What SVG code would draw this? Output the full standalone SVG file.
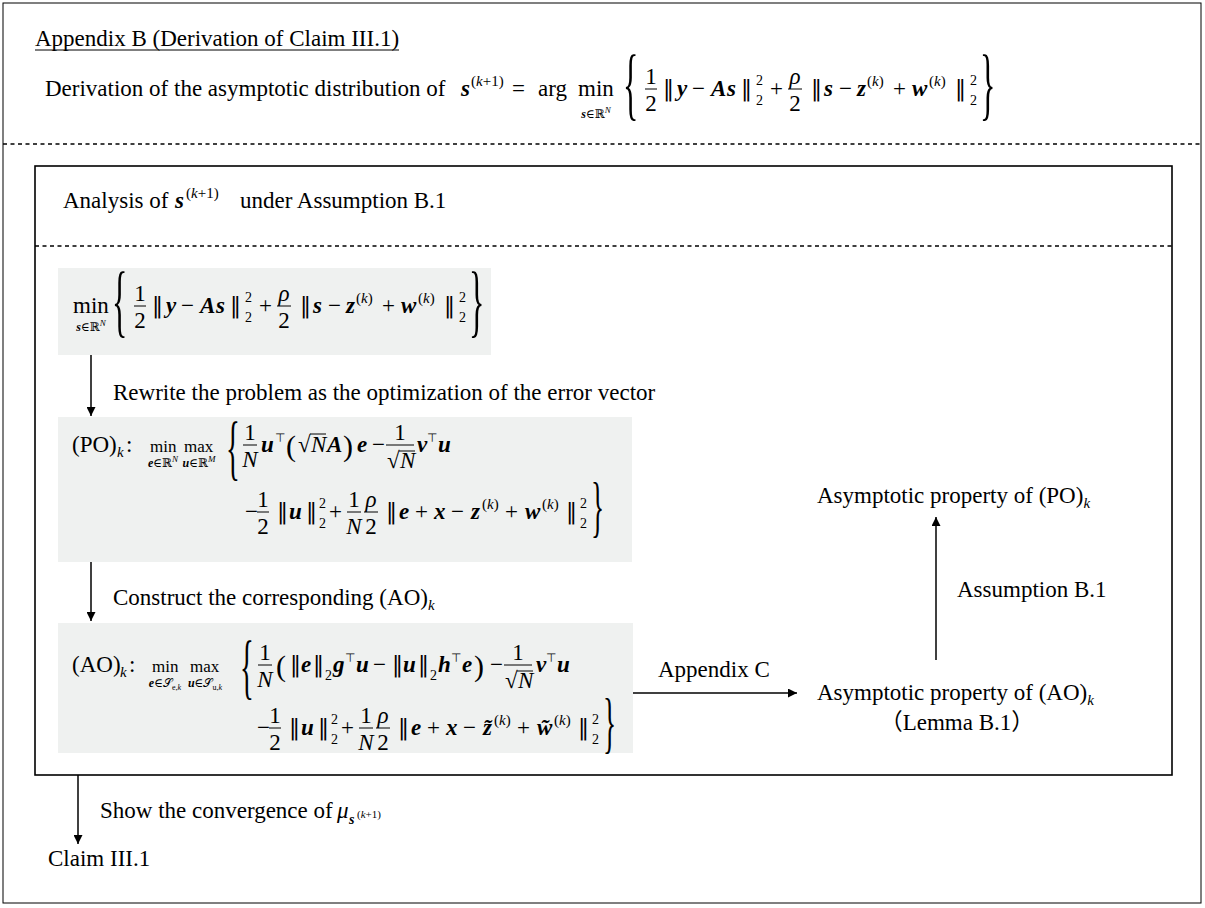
<svg xmlns="http://www.w3.org/2000/svg" width="1205" height="908" viewBox="0 0 1205 908">
<defs>
<marker id="ah" viewBox="0 0 10 10" refX="10" refY="5" markerWidth="9" markerHeight="9" markerUnits="userSpaceOnUse" orient="auto"><path d="M0,0 L10,5 L0,10 z" fill="#000"/></marker>
<style>
text{font-family:"Liberation Serif","DejaVu Serif","DejaVu Sans","Noto Sans CJK JP",serif;font-size:23px;fill:#000}
.v{font-weight:bold;font-style:italic}
.i{font-style:italic}
.sm{font-size:15px}
.xs{font-size:12px}
.s14{font-size:14px}
.f11{font-size:11px}
.op{font-size:17px}
.sym{font-family:"DejaVu Sans",sans-serif;font-size:12px}
.nrm{font-family:"DejaVu Serif",serif;font-size:22px}
.b80{font-size:80px}
.b72{font-size:72px}
.b68{font-size:68px}
.p30{font-size:30px}
.fb{stroke:#000;stroke-width:1}
.box{fill:#eff1f0}
.frame{fill:none;stroke:#000;stroke-width:1}
.inner{fill:none;stroke:#000;stroke-width:1.6}
.dash{stroke:#000;stroke-width:1.5;stroke-dasharray:4 3.5}
.con{stroke:#000;stroke-width:1.5;fill:none;marker-end:url(#ah)}
.cjk{font-family:"Liberation Serif","Noto Sans CJK JP",serif}
</style>
</defs>
<rect width="1205" height="908" fill="#fff"/>
<rect class="frame" x="3" y="3" width="1198" height="900"/>
<line class="dash" x1="3" y1="144" x2="1201" y2="144"/>

<g id="header">
<text x="35" y="46">Appendix B (Derivation of Claim III.1)</text>
<line x1="35" y1="50" x2="399" y2="50" stroke="#000" stroke-width="1"/>
<text x="45" y="96">Derivation of the asymptotic distribution of</text>
<text class="v" x="461" y="96">s</text>
<text class="sm" x="471" y="86">(<tspan class="i">k</tspan>+1)</text>
<text x="512" y="96">=</text>
<text x="538" y="96">arg</text>
<text x="578" y="96">min</text>
<text class="xs" x="596" y="118" text-anchor="middle"><tspan class="v">s</tspan>∈ℝ<tspan class="i" font-size="9" dy="-5">N</tspan></text>
<text class="b80" transform="translate(623,110) scale(0.4,1)">{</text>
<text x="651" y="84" text-anchor="middle">1</text><line class="fb" x1="645" y1="89" x2="657" y2="89"/><text x="651" y="111" text-anchor="middle">2</text>
<text class="nrm" x="663" y="96">‖</text>
<text class="v" x="677" y="96">y</text>
<text x="692" y="96">−</text>
<text class="v" x="711" y="96">A</text>
<text class="v" x="727" y="96">s</text>
<text class="nrm" x="741" y="96">‖</text>
<text class="s14" x="756" y="85">2</text><text class="s14" x="756" y="105">2</text>
<text x="770" y="96">+</text>
<text class="i" x="795" y="84" text-anchor="middle">ρ</text><line class="fb" x1="788" y1="89" x2="802" y2="89"/><text x="795" y="111" text-anchor="middle">2</text>
<text class="nrm" x="811" y="96">‖</text>
<text class="v" x="824" y="96">s</text>
<text x="839" y="96">−</text>
<text class="v" x="857" y="96">z</text>
<text class="sm" x="867" y="86">(<tspan class="i">k</tspan>)</text>
<text x="893" y="96">+</text>
<text class="v" x="912" y="96">w</text>
<text class="sm" x="929" y="86">(<tspan class="i">k</tspan>)</text>
<text class="nrm" x="955" y="96">‖</text>
<text class="s14" x="970" y="85">2</text><text class="s14" x="970" y="105">2</text>
<text class="b80" transform="translate(980,110) scale(0.4,1)">}</text>
</g>

<rect class="inner" x="35" y="166" width="1137" height="609"/>
<g id="analysis-title">
<text x="63" y="208">Analysis of</text>
<text class="v" x="175" y="208">s</text>
<text class="sm" x="186" y="198">(<tspan class="i">k</tspan>+1)</text>
<text x="240" y="208">under Assumption B.1</text>
</g>
<line class="dash" x1="35" y1="246" x2="1172" y2="246"/>

<g id="problem">
<rect class="box" x="58" y="268" width="433" height="87"/>
<text x="73" y="313">min</text>
<text class="xs" x="91" y="331" text-anchor="middle"><tspan class="v">s</tspan>∈ℝ<tspan class="i" font-size="9" dy="-5">N</tspan></text>
<text class="b80" transform="translate(112,327) scale(0.4,1)">{</text>
<text x="140" y="301" text-anchor="middle">1</text><line class="fb" x1="134" y1="306" x2="146" y2="306"/><text x="140" y="328" text-anchor="middle">2</text>
<text class="nrm" x="152" y="313">‖</text>
<text class="v" x="166" y="313">y</text>
<text x="181" y="313">−</text>
<text class="v" x="200" y="313">A</text>
<text class="v" x="216" y="313">s</text>
<text class="nrm" x="230" y="313">‖</text>
<text class="s14" x="245" y="302">2</text><text class="s14" x="245" y="322">2</text>
<text x="259" y="313">+</text>
<text class="i" x="284" y="301" text-anchor="middle">ρ</text><line class="fb" x1="277" y1="306" x2="291" y2="306"/><text x="284" y="328" text-anchor="middle">2</text>
<text class="nrm" x="300" y="313">‖</text>
<text class="v" x="313" y="313">s</text>
<text x="328" y="313">−</text>
<text class="v" x="346" y="313">z</text>
<text class="sm" x="356" y="303">(<tspan class="i">k</tspan>)</text>
<text x="382" y="313">+</text>
<text class="v" x="401" y="313">w</text>
<text class="sm" x="418" y="303">(<tspan class="i">k</tspan>)</text>
<text class="nrm" x="444" y="313">‖</text>
<text class="s14" x="459" y="302">2</text><text class="s14" x="459" y="322">2</text>
<text class="b80" transform="translate(469,327) scale(0.4,1)">}</text>
</g>

<g id="po">
<rect class="box" x="58" y="417" width="574" height="145"/>
<text x="72" y="452">(PO)</text><text class="i sm" x="117" y="457">k</text><text x="126" y="452">:</text>
<text class="op" x="150" y="452">min</text><text class="op" x="184" y="452">max</text>
<text class="xs" x="163" y="467" text-anchor="middle"><tspan class="v">e</tspan>∈ℝ<tspan class="i" font-size="9" dy="-5">N</tspan></text>
<text class="xs" x="199" y="467" text-anchor="middle"><tspan class="v">u</tspan>∈ℝ<tspan class="i" font-size="9" dy="-5">M</tspan></text>
<text class="b72" transform="translate(226,471) scale(0.4,1)">{</text>
<text x="250" y="440" text-anchor="middle">1</text><line class="fb" x1="243" y1="445" x2="257" y2="445"/><text class="i" x="250" y="467" text-anchor="middle">N</text>
<text class="v" x="261" y="452">u</text><text class="sym" x="275" y="442">⊤</text>
<text class="p30" x="286" y="456">(</text>
<text x="298" y="452">√</text><text class="i" x="311" y="452">N</text><line class="fb" x1="310" y1="434" x2="326" y2="434"/>
<text class="v" x="327" y="452">A</text>
<text class="p30" x="343" y="456">)</text>
<text class="v" x="357" y="452">e</text>
<text x="372" y="452">−</text>
<text x="400" y="440" text-anchor="middle">1</text><line class="fb" x1="386" y1="445" x2="414" y2="445"/>
<text x="387" y="468">√</text><text class="i" x="400" y="468">N</text><line class="fb" x1="399" y1="451" x2="415" y2="451"/>
<text class="v" x="417" y="452">v</text><text class="sym" x="427" y="442">⊤</text><text class="v" x="438" y="452">u</text>
<text x="245" y="519">−</text>
<text x="263" y="507" text-anchor="middle">1</text><line class="fb" x1="257" y1="512" x2="269" y2="512"/><text x="263" y="534" text-anchor="middle">2</text>
<text class="nrm" x="277" y="519">‖</text>
<text class="v" x="289" y="519">u</text>
<text class="nrm" x="306" y="519">‖</text>
<text class="s14" x="319" y="508">2</text><text class="s14" x="319" y="528">2</text>
<text x="329" y="519">+</text>
<text x="354" y="507" text-anchor="middle">1</text><line class="fb" x1="347" y1="512" x2="361" y2="512"/><text class="i" x="354" y="534" text-anchor="middle">N</text>
<text class="i" x="371" y="507" text-anchor="middle">ρ</text><line class="fb" x1="364" y1="512" x2="378" y2="512"/><text x="371" y="534" text-anchor="middle">2</text>
<text class="nrm" x="386" y="519">‖</text>
<text class="v" x="399" y="519">e</text>
<text x="415" y="519">+</text>
<text class="v" x="434" y="519">x</text>
<text x="451" y="519">−</text>
<text class="v" x="471" y="519">z</text>
<text class="sm" x="482" y="509">(<tspan class="i">k</tspan>)</text>
<text x="505" y="519">+</text>
<text class="v" x="525" y="519">w</text>
<text class="sm" x="542" y="509">(<tspan class="i">k</tspan>)</text>
<text class="nrm" x="566" y="519">‖</text>
<text class="s14" x="580" y="508">2</text><text class="s14" x="580" y="528">2</text>
<text class="b68" transform="translate(591,529) scale(0.4,1)">}</text>
</g>

<g id="ao">
<rect class="box" x="58" y="623" width="575" height="130"/>
<text x="72" y="672">(AO)</text><text class="i sm" x="120" y="677">k</text><text x="129" y="672">:</text>
<text class="op" x="152" y="672">min</text><text class="op" x="190" y="672">max</text>
<text class="xs" x="165" y="687" text-anchor="middle"><tspan class="v">e</tspan>∈𝒮<tspan font-size="8" dy="3">e,<tspan class="i">k</tspan></tspan></text>
<text class="xs" x="205" y="687" text-anchor="middle"><tspan class="v">u</tspan>∈𝒮<tspan font-size="8" dy="3">u,<tspan class="i">k</tspan></tspan></text>
<text class="b72" transform="translate(240,690) scale(0.4,1)">{</text>
<text x="265" y="660" text-anchor="middle">1</text><line class="fb" x1="258" y1="665" x2="272" y2="665"/><text class="i" x="265" y="687" text-anchor="middle">N</text>
<text class="p30" x="276" y="676">(</text>
<text class="nrm" x="290" y="672">‖</text>
<text class="v" x="301" y="672">e</text>
<text class="nrm" x="313" y="672">‖</text>
<text class="s14" x="325" y="680">2</text>
<text class="v" x="333" y="672">g</text><text class="sym" x="345" y="662">⊤</text><text class="v" x="356" y="672">u</text>
<text x="373" y="672">−</text>
<text class="nrm" x="392" y="672">‖</text>
<text class="v" x="403" y="672">u</text>
<text class="nrm" x="418" y="672">‖</text>
<text class="s14" x="430" y="680">2</text>
<text class="v" x="438" y="672">h</text><text class="sym" x="451" y="662">⊤</text><text class="v" x="462" y="672">e</text>
<text class="p30" x="474" y="676">)</text>
<text x="490" y="672">−</text>
<text x="518" y="660" text-anchor="middle">1</text><line class="fb" x1="504" y1="665" x2="532" y2="665"/>
<text x="505" y="688">√</text><text class="i" x="518" y="688">N</text><line class="fb" x1="517" y1="671" x2="533" y2="671"/>
<text class="v" x="536" y="672">v</text><text class="sym" x="546" y="662">⊤</text><text class="v" x="557" y="672">u</text>
<text x="257" y="735">−</text>
<text x="275" y="723" text-anchor="middle">1</text><line class="fb" x1="269" y1="728" x2="281" y2="728"/><text x="275" y="750" text-anchor="middle">2</text>
<text class="nrm" x="289" y="735">‖</text>
<text class="v" x="301" y="735">u</text>
<text class="nrm" x="318" y="735">‖</text>
<text class="s14" x="331" y="724">2</text><text class="s14" x="331" y="744">2</text>
<text x="341" y="735">+</text>
<text x="366" y="723" text-anchor="middle">1</text><line class="fb" x1="359" y1="728" x2="373" y2="728"/><text class="i" x="366" y="750" text-anchor="middle">N</text>
<text class="i" x="383" y="723" text-anchor="middle">ρ</text><line class="fb" x1="376" y1="728" x2="390" y2="728"/><text x="383" y="750" text-anchor="middle">2</text>
<text class="nrm" x="398" y="735">‖</text>
<text class="v" x="411" y="735">e</text>
<text x="427" y="735">+</text>
<text class="v" x="446" y="735">x</text>
<text x="463" y="735">−</text>
<text class="v" x="483" y="735">z̃</text>
<text class="sm" x="494" y="725">(<tspan class="i">k</tspan>)</text>
<text x="517" y="735">+</text>
<text class="v" x="537" y="735">w̃</text>
<text class="sm" x="554" y="725">(<tspan class="i">k</tspan>)</text>
<text class="nrm" x="578" y="735">‖</text>
<text class="s14" x="592" y="724">2</text><text class="s14" x="592" y="744">2</text>
<text class="b68" transform="translate(603,745) scale(0.4,1)">}</text>
</g>

<g id="po-property">
<text x="817" y="503">Asymptotic property of  (PO)<tspan class="i sm" dy="5">k</tspan></text>
</g>
<g id="ao-property">
<text x="817" y="700">Asymptotic property of  (AO)<tspan class="i sm" dy="5">k</tspan></text>
<text class="cjk" x="957" y="730" text-anchor="middle">（Lemma B.1）</text>
</g>
<g id="claim">
<text x="48" y="866">Claim III.1</text>
</g>

<g id="connectors">
<line class="con" x1="91" y1="355" x2="91" y2="416"/>
<line class="con" x1="91" y1="562" x2="91" y2="621"/>
<line class="con" x1="633" y1="693" x2="797" y2="693"/>
<line class="con" x1="936" y1="660" x2="936" y2="517"/>
<line class="con" x1="78" y1="775" x2="78" y2="844"/>
</g>
<g id="labels">
<text x="113" y="400">Rewrite the problem as the optimization of the error vector</text>
<text x="113" y="605">Construct the corresponding (AO)<tspan class="i sm" dy="5">k</tspan></text>
<text x="658" y="677">Appendix C</text>
<text x="957" y="597">Assumption B.1</text>
<text x="100" y="818">Show the convergence of</text>
<text class="i" x="337" y="818">μ</text><text class="v s14" x="349" y="824">s</text><text class="f11" x="357" y="818">(<tspan class="i">k</tspan>+1)</text>
</g>
</svg>
